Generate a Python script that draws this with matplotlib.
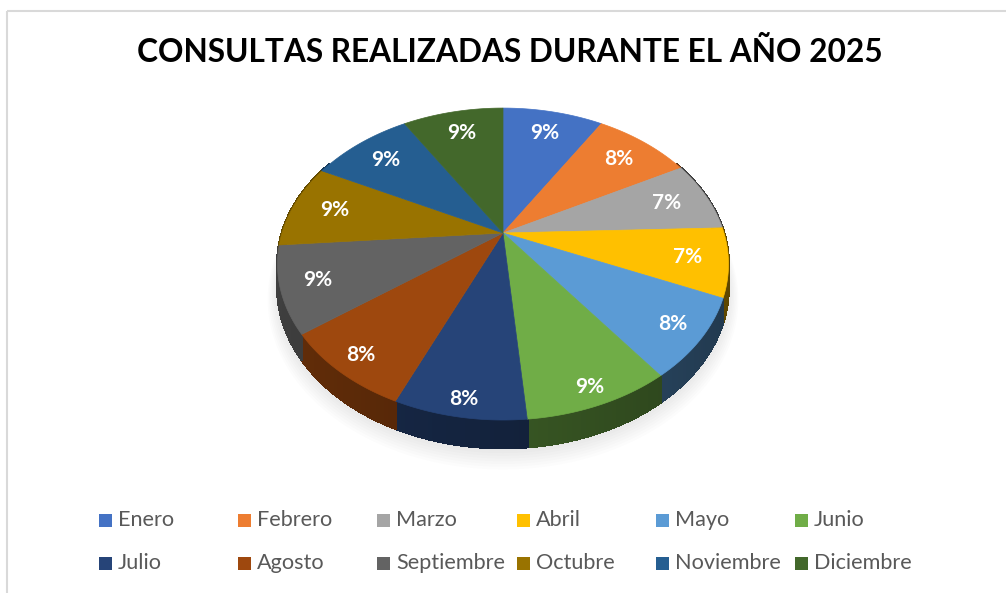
import numpy as np
import matplotlib
matplotlib.use("Agg")
import matplotlib.pyplot as plt
from matplotlib.patches import Polygon, Rectangle
from matplotlib.collections import PolyCollection
import matplotlib.colors as mcolors

plt.rcParams['font.family'] = ['Lato', 'DejaVu Sans']
plt.rcParams['hatch.color'] = '#ededed'
plt.rcParams['hatch.linewidth'] = 1.6

# ---- data ----
titulo = "CONSULTAS REALIZADAS DURANTE EL AÑO 2025"
meses = ["Enero", "Febrero", "Marzo", "Abril", "Mayo", "Junio",
         "Julio", "Agosto", "Septiembre", "Octubre", "Noviembre", "Diciembre"]
consultas = [87, 84, 73, 71, 82, 88, 79, 83, 89, 87, 88, 87]
colores = ["#4472C4", "#ED7D31", "#A5A5A5", "#FFC000", "#5B9BD5", "#70AD47",
           "#264478", "#9E480E", "#636363", "#997300", "#255E91", "#43682B"]

W, H = 1006, 593
fig = plt.figure(figsize=(W / 100, H / 100), dpi=100)
fig.patch.set_facecolor('white')
ax = fig.add_axes([0, 0, 1, 1])
ax.set_xlim(0, W)
ax.set_ylim(H, 0)
ax.axis('off')

# background (chart area with diagonal pattern)
ax.add_patch(Rectangle((7, 11), W, H, facecolor='white', edgecolor='none',
                       hatch='\\\\\\', zorder=0))
ax.add_patch(Rectangle((7, 11), W, H, facecolor='none', edgecolor='#d9d9d9',
                       lw=1.5, zorder=0.5))

# ---- 3D pie geometry (perspective) ----
CX, CY = 503, 233
A, B, K, T = 221, 149.8, 0.199, 22.4


def proj(r, phi, z=0.0):
    u = r * np.sin(phi)
    v = -r * np.cos(phi)
    den = 1 - K * v
    return CX + A * u / den, CY + (B * v + z) / den


vals = np.array(consultas, dtype=float)
frac = vals / vals.sum()
edges = np.concatenate([[0], np.cumsum(frac)]) * 2 * np.pi

# soft shadow
full = np.linspace(0, 2 * np.pi, 361)
for i in range(8):
    sx, sy = proj(1.0 + 0.006 * i, full, T + 2 + 1.0 * i)
    ax.fill(sx, sy, color='black', alpha=0.012, lw=0, zorder=1)

# sides
side_polys, side_cols = [], []
for i in range(len(vals)):
    p0, p1 = edges[i], edges[i + 1]
    lo, hi = max(p0, np.pi / 3), min(p1, 5 * np.pi / 3)
    if hi <= lo:
        continue
    n = max(2, int(np.degrees(hi - lo)) + 1)
    ph = np.linspace(lo, hi, n)
    base = np.array(mcolors.to_rgb(colores[i]))
    for j in range(n - 1):
        a0, a1 = ph[j], ph[j + 1]
        x0, y0 = proj(1, a0)
        x1, y1 = proj(1, a1)
        x2, y2 = proj(1, a1, T)
        x3, y3 = proj(1, a0, T)
        side_polys.append([(x0, y0), (x1, y1), (x2, y2), (x3, y3)])
        shade = 0.5 - 0.14 * np.sin(0.5 * (a0 + a1))
        side_cols.append(tuple(np.clip(base * shade, 0, 1)))
ax.add_collection(PolyCollection(side_polys, facecolors=side_cols,
                                 edgecolors=side_cols, linewidths=1.3,
                                 antialiased=False, zorder=2))

# tops
for i in range(len(vals)):
    ph = np.linspace(edges[i], edges[i + 1], 80)
    xs, ys = proj(1, ph)
    pts = [(CX, CY)] + list(zip(xs, ys))
    ax.add_patch(Polygon(pts, closed=True, facecolor=colores[i],
                         edgecolor=colores[i], lw=0.5, zorder=3))

# data labels
for i in range(len(vals)):
    mid = 0.5 * (edges[i] + edges[i + 1])
    r = 0.8 + 0.12 * max(0.0, -np.cos(mid))
    lx, ly = proj(r, mid)
    ax.text(lx, ly, f"{frac[i] * 100:.0f}%", ha='center', va='center',
            color='white', fontsize=15, fontweight='bold', zorder=4)

# title
ax.text(509.5, 52, titulo, ha='center', va='center', fontsize=22.8,
        fontweight='bold', color='black', zorder=4)

# legend
ax.add_patch(Rectangle((92, 498), 835, 82, facecolor='white', alpha=0.85,
                       edgecolor='none', zorder=3))
for i, (m, c) in enumerate(zip(meses, colores)):
    row, col = divmod(i, 6)
    x0 = 99 + col * 139.2
    y = 520 + row * 43
    ax.add_patch(Rectangle((x0, y - 6.5), 13, 13, facecolor=c, edgecolor='none', zorder=4))
    ax.text(x0 + 19, y, m, ha='left', va='center', fontsize=15.6,
            color='#595959', zorder=4)

fig.savefig("out.png", dpi=100)
